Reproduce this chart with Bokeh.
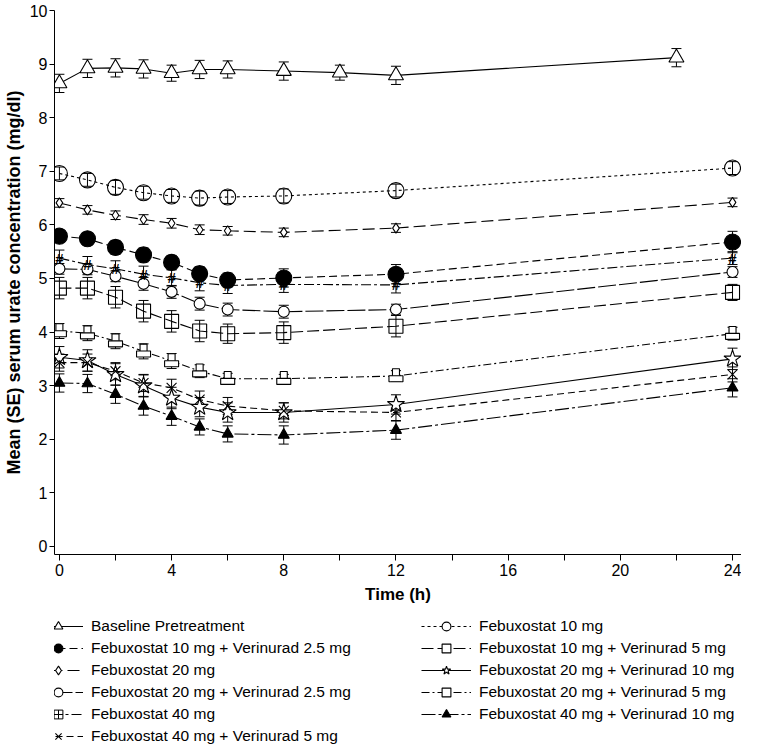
from bokeh.plotting import figure
from bokeh.models import (ColumnDataSource, Whisker, TeeHead, FixedTicker, Legend,
                          LegendItem, Range1d)
from bokeh.layouts import column
from bokeh.transform import dodge
from bokeh.core.properties import value
from bokeh.embed import file_html
from bokeh.resources import INLINE

# ---------------- data ----------------
time_main = [0, 1, 2, 3, 4, 5, 6, 8, 12, 24]
time_base = [0, 1, 2, 3, 4, 5, 6, 8, 10, 12, 22]

baseline = [8.64, 8.92, 8.93, 8.91, 8.83, 8.9, 8.9, 8.87, 8.84, 8.79, 9.12]
baseline_se = [0.17, 0.17, 0.17, 0.17, 0.15, 0.17, 0.16, 0.17, 0.14, 0.17, 0.17]

feb10 = [6.96, 6.84, 6.7, 6.6, 6.54, 6.5, 6.52, 6.54, 6.64, 7.06]
feb10_se = [0.12, 0.12, 0.13, 0.12, 0.12, 0.13, 0.12, 0.13, 0.12, 0.12]

feb10_v25 = [5.79, 5.74, 5.58, 5.44, 5.3, 5.09, 4.97, 5.01, 5.08, 5.68]
feb10_v25_se = [0.12, 0.12, 0.13, 0.13, 0.13, 0.13, 0.13, 0.17, 0.18, 0.2]

feb10_v5 = [4.82, 4.82, 4.65, 4.39, 4.2, 4.02, 3.97, 3.99, 4.11, 4.74]
feb10_v5_se = [0.2, 0.2, 0.2, 0.2, 0.2, 0.2, 0.18, 0.2, 0.2, 0.15]

feb20 = [6.41, 6.28, 6.18, 6.1, 6.03, 5.91, 5.89, 5.86, 5.94, 6.42]
feb20_se = [0.08, 0.08, 0.08, 0.09, 0.09, 0.09, 0.08, 0.08, 0.08, 0.08]

feb20_v10 = [3.53, 3.47, 3.21, 3.0, 2.77, 2.6, 2.5, 2.5, 2.65, 3.5]
feb20_v10_se = [0.2, 0.2, 0.2, 0.2, 0.2, 0.18, 0.18, 0.18, 0.18, 0.2]

feb20_v25 = [5.18, 5.17, 5.04, 4.9, 4.75, 4.53, 4.42, 4.38, 4.42, 5.12]
feb20_v25_se = [0.1, 0.1, 0.1, 0.12, 0.12, 0.12, 0.12, 0.12, 0.1, 0.1]

feb20_v5 = [4.02, 3.98, 3.83, 3.64, 3.46, 3.27, 3.13, 3.13, 3.18, 3.97]
feb20_v5_se = [0.14, 0.14, 0.14, 0.14, 0.14, 0.12, 0.1, 0.08, 0.1, 0.12]

feb40 = [5.38, 5.26, 5.18, 5.08, 5.01, 4.92, 4.87, 4.89, 4.88, 5.38]
feb40_se = [0.15, 0.15, 0.15, 0.15, 0.15, 0.15, 0.15, 0.15, 0.15, 0.12]

feb40_v10 = [3.05, 3.04, 2.84, 2.62, 2.43, 2.23, 2.1, 2.08, 2.17, 2.96]
feb40_v10_se = [0.17, 0.17, 0.17, 0.17, 0.17, 0.15, 0.15, 0.17, 0.17, 0.17]

feb40_v5 = [3.43, 3.43, 3.27, 3.05, 2.96, 2.74, 2.62, 2.53, 2.5, 3.21]
feb40_v5_se = [0.16, 0.16, 0.16, 0.16, 0.16, 0.16, 0.16, 0.15, 0.15, 0.14]

labels = ["Baseline Pretreatment", "Febuxostat 10 mg",
          "Febuxostat 10 mg + Verinurad 2.5 mg", "Febuxostat 10 mg + Verinurad 5 mg",
          "Febuxostat 20 mg", "Febuxostat 20 mg + Verinurad 10 mg",
          "Febuxostat 20 mg + Verinurad 2.5 mg", "Febuxostat 20 mg + Verinurad 5 mg",
          "Febuxostat 40 mg", "Febuxostat 40 mg + Verinurad 10 mg",
          "Febuxostat 40 mg + Verinurad 5 mg"]

x_ticks = [0, 4, 8, 12, 16, 20, 24]
x_minor = [2, 6, 10, 14, 18, 22]
y_ticks = [0, 1, 2, 3, 4, 5, 6, 7, 8, 9, 10]

x_title = "Time (h)"
y_title = "Mean (SE) serum urate concentration (mg/dl)"

# ---------------- styles ----------------
series = [
    # label, x, y, se, dash, kind, marker, size, fill
    (labels[0], time_base, baseline, baseline_se, "solid", "scatter", "triangle", 15, "white"),
    (labels[1], time_main, feb10, feb10_se, "3 3", "scatter", "circle", 16, None),
    (labels[2], time_main, feb10_v25, feb10_v25_se, "8 4", "scatter", "circle", 16, "black"),
    (labels[3], time_main, feb10_v5, feb10_v5_se, "12 4", "scatter", "square", 14, None),
    (labels[4], time_main, feb20, feb20_se, "12 5", "scatter", "diamond", 10, "white"),
    (labels[5], time_main, feb20_v10, feb20_v10_se, "solid", "scatter", "star", 18, "white"),
    (labels[6], time_main, feb20_v25, feb20_v25_se, "18 3", "scatter", "circle", 11, "white"),
    (labels[7], time_main, feb20_v5, feb20_v5_se, "8 3 2 3", "bump", "square", 9, "white"),
    (labels[8], time_main, feb40, feb40_se, "10 3 3 3", "text", "#", 15, None),
    (labels[9], time_main, feb40_v10, feb40_v10_se, "14 3 3 3", "scatter", "triangle", 11, "black"),
    (labels[10], time_main, feb40_v5, feb40_v5_se, "7 4", "scatter", "x", 14, None),
]

TICK_FONT = "Liberation Sans"
LABEL_FONT = "Liberation Sans"

p = figure(width=741, height=606, output_backend="svg", toolbar_location=None,
           x_range=Range1d(-0.175, 24.32), y_range=Range1d(-0.15, 10),
           min_border_left=44, min_border_top=10, min_border_right=0, min_border_bottom=0)
p.outline_line_color = None
p.grid.visible = False

# legend-only figure below the chart; its ranges keep the data out of view,
# so the renderers there are seen only as legend samples
lg = figure(width=741, height=138, output_backend="svg", toolbar_location=None,
            x_range=Range1d(1000, 1741), y_range=Range1d(1000, 1138),
            x_axis_location=None, y_axis_location=None,
            min_border_left=0, min_border_right=0, min_border_top=0, min_border_bottom=0)
lg.outline_line_color = None
lg.grid.visible = False

items = []
for (lab, xs, ys, se, dash, kind, mk, size, fill) in series:
    src = ColumnDataSource(dict(x=xs, y=ys,
                                upper=[a + b for a, b in zip(ys, se)],
                                lower=[a - b for a, b in zip(ys, se)]))
    w = Whisker(source=src, base="x", upper="upper", lower="lower",
                line_color="black", line_width=1,
                upper_head=TeeHead(size=10, line_color="black", line_width=1),
                lower_head=TeeHead(size=10, line_color="black", line_width=1))
    p.add_layout(w)
    p.line("x", "y", source=src, line_color="black", line_width=1.1, line_dash=dash)
    if kind == "scatter":
        p.scatter("x", "y", source=src, marker=mk, size=size,
                  line_color="black", line_width=1.1,
                  fill_color=fill if fill else None, fill_alpha=1 if fill else 0)
    elif kind == "bump":
        # "凸"-shaped marker: narrow upper block on a wide lower block
        p.rect("x", dodge("y", 0.06, range=p.y_range), source=src, width=7, height=8,
               width_units="screen", height_units="screen",
               line_color="black", line_width=1.1, fill_color="white")
        p.rect("x", dodge("y", -0.05, range=p.y_range), source=src, width=14, height=6,
               width_units="screen", height_units="screen",
               line_color="black", line_width=1.1, fill_color="white")
    else:
        p.text("x", "y", source=src, text=value(mk), text_align="center",
               text_baseline="middle", text_font=value(LABEL_FONT),
               text_font_size=f"{size}px", text_color="black", text_font_style="bold")

    # legend samples
    lr = lg.line("x", "y", source=src, line_color="black", line_width=1.1, line_dash=dash)
    if kind == "text":
        mr = lg.scatter("x", "y", source=src, marker="square_cross", line_color="black",
                        line_width=1.0, fill_alpha=0)
    else:
        mr = lg.scatter("x", "y", source=src, marker=mk, line_color="black",
                        line_width=1.1, fill_color=fill if fill else "white")
    items.append(LegendItem(label=lab, renderers=[lr, mr]))

legend = Legend(items=items, orientation="horizontal", ncols=2,
                location=(-21, -3), padding=0, margin=0, spacing=0,
                border_line_color=None, background_fill_alpha=0,
                glyph_width=50, glyph_height=22, label_height=22,
                label_width=330, label_standoff=8,
                label_text_font=LABEL_FONT, label_text_font_size="15.5px",
                label_text_color="black", label_text_baseline="middle")
lg.add_layout(legend)

xa = p.xaxis[0]
xa.ticker = FixedTicker(ticks=x_ticks, minor_ticks=x_minor)
xa.axis_label = x_title
xa.axis_label_text_font = LABEL_FONT
xa.axis_label_text_font_style = "bold"
xa.axis_label_text_font_size = "17px"
xa.axis_label_standoff = 6
xa.major_label_text_font = TICK_FONT
xa.major_label_text_font_size = "16px"
xa.major_label_standoff = 3
xa.major_tick_in = 0
xa.major_tick_out = 6
xa.minor_tick_in = 0
xa.minor_tick_out = 6
xa.axis_line_color = "black"
xa.major_tick_line_color = "black"
xa.minor_tick_line_color = "black"
xa.major_label_text_color = "black"
xa.axis_label_text_color = "black"

ya = p.yaxis[0]
ya.ticker = FixedTicker(ticks=y_ticks)
ya.axis_label = y_title
ya.axis_label_text_font = LABEL_FONT
ya.axis_label_text_font_style = "bold"
ya.axis_label_text_font_size = "18px"
ya.axis_label_standoff = 3
ya.major_label_text_font = TICK_FONT
ya.major_label_text_font_size = "16px"
ya.major_label_standoff = 2
ya.major_tick_in = 0
ya.major_tick_out = 5
ya.minor_tick_line_color = None
ya.axis_line_color = "black"
ya.major_tick_line_color = "black"
ya.major_label_text_color = "black"
ya.axis_label_text_color = "black"

layout = column(p, lg, spacing=0)
open("out.html", "w").write(file_html(layout, INLINE))
